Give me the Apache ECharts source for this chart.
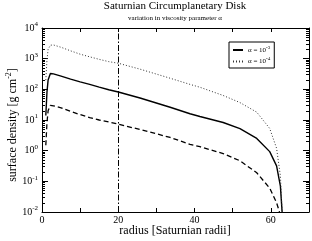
<!DOCTYPE html>
<html><head><meta charset="utf-8">
<script src="https://cdn.jsdelivr.net/npm/echarts@6/dist/echarts.min.js"></script>
<style>html,body{margin:0;padding:0;background:#fff}#c{width:312px;height:241px}</style>
</head><body><div id="c"></div>
<script>
// radius values (Saturnian radii)
const radius = [1, 1.3, 1.6, 2.2, 3, 5, 7.5, 10, 12.5, 15, 17.5, 20, 25.7, 33.6, 38.8, 41.4, 47.5, 51.9, 56.3, 59.7, 61.5, 62.5, 63];
// alpha = 1e-3 (solid)
const sigmaA3 = [14, 80, 200, 330, 320, 270, 215, 175, 145, 118, 97, 82, 52, 26, 16, 13, 8.3, 5.2, 2.5, 0.93, 0.32, 0.07, 0.008];
// alpha = 1e-4 (dotted)
const sigmaA4 = [200, 900, 2000, 2750, 2800, 2350, 1800, 1400, 1150, 950, 800, 710, 455, 230, 145, 117, 63, 37, 18, 5.3, 1.2, 0.15, 0.008];
// alpha = 1e-2 (dashed, not in legend)
const sigmaA2 = [1.5, 8, 20, 30, 29, 25, 19, 15, 12, 10, 8.6, 7.3, 4.9, 2.7, 1.6, 1.35, 0.8, 0.47, 0.19, 0.06, 0.02, 0.008, 0.008];
const xTickLabels = [0, 20, 40, 60];
const yMajor = [0.01, 0.1, 1, 10, 100, 1000, 10000];
const yMinor = [];
for (let e = -2; e < 4; e++) for (let m = 2; m <= 9; m++) yMinor.push(+(m * Math.pow(10, e)).toPrecision(3));
const vLineX = 20;

const FF = 'Liberation Serif';
const chart = echarts.init(document.getElementById('c'), null, {renderer: 'canvas'});
const pair = (xs, ys) => xs.map((x, i) => [x, ys[i]]);
const supRich = {
  b: {fontSize: 10, fontFamily: FF, color: '#000'},
  s: {fontSize: 7, fontFamily: FF, color: '#000', padding: [0, 0, 7, 0]}
};
function yAxisDef(pos, minor, labels) {
  return {
    type: 'log', logBase: 10, min: 0.01, max: 10000, interval: 1, position: pos,
    axisLine: {show: !minor, lineStyle: {color: '#000', width: 1}},
    axisTick: minor ? {show: true, inside: true, length: 3, customValues: yMinor, lineStyle: {color: '#000'}}
                    : {show: true, inside: true, length: 6, customValues: yMajor, lineStyle: {color: '#000'}},
    axisLabel: labels ? {show: true, margin: 4, customValues: yMajor,
      formatter: v => '{b|10}{s|' + Math.round(Math.log10(v)) + '}', rich: supRich} : {show: false},
    splitLine: {show: false}
  };
}
function xAxisDef(pos, labels) {
  return {
    type: 'value', min: 0, max: 70, interval: 10, position: pos,
    axisLine: {show: true, onZero: false, lineStyle: {color: '#000', width: 1}},
    axisTick: {show: true, inside: true, length: 4, lineStyle: {color: '#000'}},
    axisLabel: labels ? {show: true, margin: 3, customValues: xTickLabels, fontSize: 10, fontFamily: FF, color: '#000'} : {show: false},
    splitLine: {show: false}
  };
}
const lineCommon = {type: 'line', showSymbol: false, symbol: 'none', clip: true, smooth: false};
chart.setOption({
  animation: false,
  backgroundColor: '#fff',
  grid: {left: 42, right: 3, top: 28, bottom: 29, containLabel: false},
  xAxis: [xAxisDef('bottom', true), xAxisDef('top', false)],
  yAxis: [yAxisDef('left', false, true), yAxisDef('left', true, false), yAxisDef('right', false, false), yAxisDef('right', true, false)],
  legend: {
    data: ['a3', 'a4'], orient: 'vertical', left: 229, top: 42,
    padding: [3, 4, 3, 3], itemGap: 3, itemWidth: 10, itemHeight: 6,
    borderColor: '#000', borderWidth: 1, backgroundColor: '#fff',
    itemStyle: {opacity: 0},
    formatter: n => n === 'a3' ? '{b|α = 10}{s|-3}' : '{b|α = 10}{s|-4}',
    textStyle: {fontSize: 7, fontFamily: FF, color: '#000',
      rich: {b: {fontSize: 7, fontFamily: FF, color: '#000'}, s: {fontSize: 5, fontFamily: FF, color: '#000', padding: [0, 0, 5, 0]}}}
  },
  series: [
    Object.assign({}, lineCommon, {name: 'a3', data: pair(radius, sigmaA3),
     lineStyle: {color: '#000', width: 1.4, type: 'solid'}, itemStyle: {color: '#000'},
     markLine: {silent: true, symbol: ['none', 'none'], label: {show: false},
       lineStyle: {color: '#000', width: 1, type: [6, 2, 1.5, 2]}, data: [{xAxis: vLineX}]}}),
    Object.assign({}, lineCommon, {name: 'a4', data: pair(radius, sigmaA4),
     lineStyle: {color: '#333', width: 1, type: [1, 2]}, itemStyle: {color: '#333'}}),
    Object.assign({}, lineCommon, {name: 'a2', data: pair(radius, sigmaA2),
     lineStyle: {color: '#000', width: 1.3, type: [5, 3]}, itemStyle: {color: '#000'}})
  ],
  graphic: [
    {type: 'text', x: 175, y: 6, style: {text: 'Saturnian Circumplanetary Disk', font: '11px "Liberation Serif"', fill: '#000', textAlign: 'center', textVerticalAlign: 'middle'}},
    {type: 'text', x: 175, y: 18, style: {text: 'variation in viscosity parameter α', font: '7px "Liberation Serif"', fill: '#000', textAlign: 'center', textVerticalAlign: 'middle'}},
    {type: 'text', x: 175, y: 231, style: {text: 'radius [Saturnian radii]', font: '12px "Liberation Serif"', fill: '#000', textAlign: 'center', textVerticalAlign: 'middle'}},
    {type: 'text', x: 13, y: 125, rotation: Math.PI / 2,
     style: {text: 'surface density [g cm{s|-2}]', fontSize: 12, fontFamily: FF, fill: '#000', align: 'center', verticalAlign: 'middle',
       rich: {s: {fontSize: 8, fontFamily: FF, fill: '#000', padding: [0, 0, 9, 0]}}}}
  ]
});
</script></body></html>
